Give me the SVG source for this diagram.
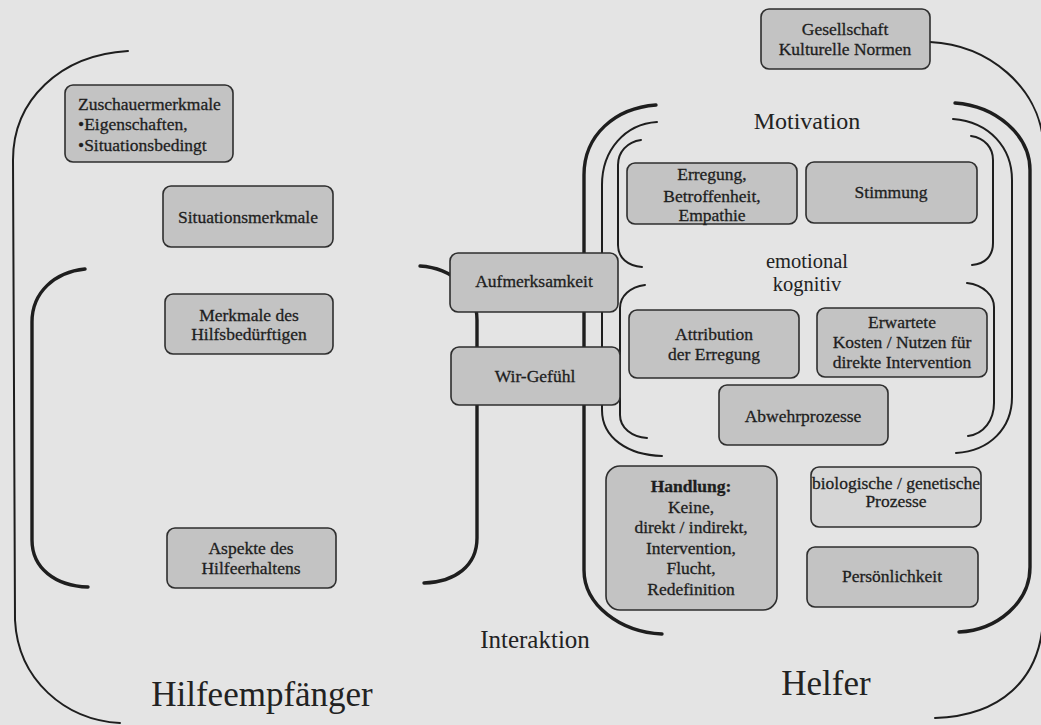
<svg xmlns="http://www.w3.org/2000/svg" width="1041" height="725" viewBox="0 0 1041 725">
<style>
.box{fill:#c3c3c3;stroke:#2e2e2e;stroke-width:1.6}
.light{fill:#d6d6d6}
.t{font-family:"Liberation Serif","Times New Roman",serif;font-size:17.5px;fill:#1e1e1e;stroke:#1e1e1e;stroke-width:0.3;text-anchor:middle}
.tl{text-anchor:start}
.big{font-size:35px;fill:#222;stroke:none}
.mid{font-size:24px;fill:#222;stroke:none}
.sm{font-size:20.5px;fill:#222;stroke:none}
.br{fill:none;stroke:#1e1e1e;stroke-linecap:round}
.thin{stroke-width:2}
.thick{stroke-width:3.4}
</style>
<rect width="1041" height="725" fill="#e4e4e4"/>
<g id="connectors">
  <path class="br thin" d="M128,51 C60,55 13,100 13,160 L15,620 C18,680 65,720 120,723"/>
  <path class="br thick" d="M85,269 C55,272 32,292 32,322 L32,540 C32,568 55,586 88,587"/>
  <path class="br thick" d="M420,266 C452,268 477,290 477,320 L477,538 C477,566 455,582 424,583"/>
  <path class="br thin" d="M930,42 C990,45 1038,88 1043,140 L1043,620 C1040,680 1000,716 935,718"/>
  <path class="br thick" d="M656,105 C615,108 584,135 584,175 L584,570 C584,605 620,632 662,634"/>
  <path class="br thick" d="M955,103 C996,106 1030,135 1030,170 L1030,567 C1030,602 998,630 959,632"/>
  <path class="br thin" d="M657,122 C625,124 602,150 602,185 L602,410 C602,438 628,455 662,456"/>
  <path class="br thin" d="M953,119 C990,122 1012,148 1012,180 L1012,397 C1012,428 990,451 956,453"/>
  <path class="br thin" d="M641,140 C627,142 618,152 618,165 L618,245 C618,258 628,266 642,267"/>
  <path class="br thin" d="M971,136 C985,138 993,148 993,160 L993,243 C993,256 985,264 972,265"/>
  <path class="br thin" d="M645,285 C630,287 620,296 620,308 L620,415 C620,428 632,437 647,438"/>
  <path class="br thin" d="M967,283 C984,285 994,296 994,307 L994,403 C994,420 984,434 968,436"/>
</g>
<g id="zuschauer">
  <rect class="box" x="65" y="85" width="168" height="77" rx="8"/>
  <text class="t tl" x="78" y="110">Zuschauermerkmale</text>
  <text class="t tl" x="78" y="130">•Eigenschaften,</text>
  <text class="t tl" x="78" y="151">•Situationsbedingt</text>
</g>
<g id="situation">
  <rect class="box" x="163" y="186" width="170" height="61" rx="8"/>
  <text class="t" x="248" y="223">Situationsmerkmale</text>
</g>
<g id="merkmale">
  <rect class="box" x="165" y="294" width="168" height="60" rx="8"/>
  <text class="t" x="249" y="321">Merkmale des</text>
  <text class="t" x="249" y="340">Hilfsbedürftigen</text>
</g>
<g id="aspekte">
  <rect class="box" x="167" y="528" width="169" height="60" rx="8"/>
  <text class="t" x="251" y="554">Aspekte des</text>
  <text class="t" x="251" y="574">Hilfeerhaltens</text>
</g>
<g id="aufmerksamkeit">
  <rect class="box" x="450" y="253" width="168" height="59" rx="8"/>
  <text class="t" x="534" y="287">Aufmerksamkeit</text>
</g>
<g id="wirgefuehl">
  <rect class="box" x="451" y="347" width="169" height="58" rx="8"/>
  <text class="t" x="535" y="382">Wir-Gefühl</text>
</g>
<g id="gesellschaft">
  <rect class="box" x="761" y="9" width="169" height="60" rx="8"/>
  <text class="t" x="845" y="35">Gesellschaft</text>
  <text class="t" x="845" y="55">Kulturelle Normen</text>
</g>
<g id="erregung">
  <rect class="box" x="627" y="163" width="170" height="61" rx="8"/>
  <text class="t" x="712" y="180">Erregung,</text>
  <text class="t" x="712" y="202">Betroffenheit,</text>
  <text class="t" x="712" y="221">Empathie</text>
</g>
<g id="stimmung">
  <rect class="box" x="806" y="162" width="171" height="61" rx="8"/>
  <text class="t" x="891" y="198">Stimmung</text>
</g>
<g id="attribution">
  <rect class="box" x="629" y="310" width="170" height="68" rx="8"/>
  <text class="t" x="714" y="340">Attribution</text>
  <text class="t" x="714" y="360">der Erregung</text>
</g>
<g id="erwartete">
  <rect class="box" x="817" y="308" width="170" height="69" rx="8"/>
  <text class="t" x="902" y="328">Erwartete</text>
  <text class="t" x="902" y="348">Kosten / Nutzen für</text>
  <text class="t" x="902" y="368">direkte Intervention</text>
</g>
<g id="abwehr">
  <rect class="box" x="719" y="385" width="169" height="60" rx="8"/>
  <text class="t" x="803" y="422">Abwehrprozesse</text>
</g>
<g id="handlung">
  <rect class="box" x="606" y="466" width="171" height="144" rx="14"/>
  <text class="t" x="691" y="492" font-weight="bold">Handlung:</text>
  <text class="t" x="691" y="513">Keine,</text>
  <text class="t" x="691" y="533">direkt / indirekt,</text>
  <text class="t" x="691" y="554">Intervention,</text>
  <text class="t" x="691" y="574">Flucht,</text>
  <text class="t" x="691" y="595">Redefinition</text>
</g>
<g id="biologisch">
  <rect class="box light" x="811" y="467" width="170" height="60" rx="8"/>
  <text class="t" x="896" y="489" font-size="16.5">biologische / genetische</text>
  <text class="t" x="896" y="507" font-size="16.5">Prozesse</text>
</g>
<g id="persoenlichkeit">
  <rect class="box" x="807" y="547" width="171" height="60" rx="8"/>
  <text class="t" x="892" y="582">Persönlichkeit</text>
</g>
<g id="labels">
  <text class="t mid" x="807" y="129">Motivation</text>
  <text class="t sm" x="807" y="268">emotional</text>
  <text class="t sm" x="807" y="291">kognitiv</text>
  <text class="t" x="535" y="648" style="font-size:25px;fill:#222;stroke:none">Interaktion</text>
  <text class="t big" x="262" y="706">Hilfeempfänger</text>
  <text class="t big" x="826" y="695">Helfer</text>
</g>
</svg>
